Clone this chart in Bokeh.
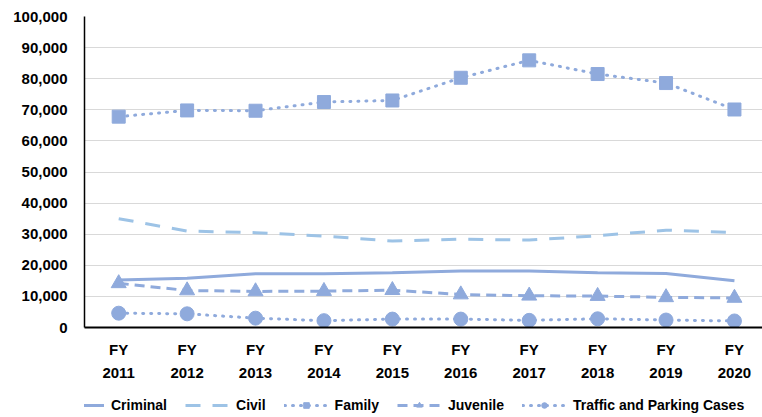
from bokeh.plotting import figure
from bokeh.layouts import column
from bokeh.models import (FixedTicker, NumeralTickFormatter, Legend, LegendItem, Range1d)
from bokeh.embed import file_html
from bokeh.resources import INLINE

years = [2011, 2012, 2013, 2014, 2015, 2016, 2017, 2018, 2019, 2020]
year_labels = ["FY\n2011", "FY\n2012", "FY\n2013", "FY\n2014", "FY\n2015",
               "FY\n2016", "FY\n2017", "FY\n2018", "FY\n2019", "FY\n2020"]

criminal = [15300, 15800, 17300, 17300, 17600, 18200, 18200, 17600, 17400, 15000]
civil = [35000, 31000, 30500, 29400, 27800, 28400, 28100, 29500, 31300, 30500]
family = [67800, 69800, 69700, 72500, 73000, 80300, 85900, 81500, 78600, 70100]
juvenile = [14200, 11900, 11600, 11700, 12000, 10600, 10200, 10100, 9700, 9500]
traffic = [4600, 4400, 3000, 2200, 2700, 2700, 2300, 2800, 2400, 2100]

series_names = ["Criminal", "Civil", "Family", "Juvenile", "Traffic and Parking Cases"]

y_ticks = [0, 10000, 20000, 30000, 40000, 50000, 60000, 70000, 80000, 90000, 100000]

C1 = "#8FAADC"
C2 = "#9DC3E6"
FONT = "Liberation Sans"

styles = [
    dict(line=dict(line_color=C1, line_width=3), marker=None),
    dict(line=dict(line_color=C2, line_width=3, line_dash="15 12"), marker=None),
    dict(line=dict(line_color=C1, line_width=3, line_dash="1 7", line_cap="round"),
         marker=dict(marker="square", size=13, fill_color=C1, line_color=C1)),
    dict(line=dict(line_color=C1, line_width=3, line_dash="10 6"),
         marker=dict(marker="triangle", size=15, fill_color=C1, line_color=C1)),
    dict(line=dict(line_color=C1, line_width=3, line_dash="1 7", line_cap="round"),
         marker=dict(marker="circle", size=14, fill_color=C1, line_color=C1)),
]
series = [criminal, civil, family, juvenile, traffic]

p = figure(width=762, height=392, output_backend="svg", toolbar_location=None,
           x_range=Range1d(2010.5, 2020.41), y_range=Range1d(0, 100000),
           min_border_left=84, min_border_top=16, min_border_right=0, min_border_bottom=65)
p.outline_line_color = None
p.background_fill_color = "white"
p.border_fill_color = "white"

p.yaxis.ticker = FixedTicker(ticks=y_ticks)
p.yaxis.formatter = NumeralTickFormatter(format="0,0")
p.yaxis.major_tick_line_color = None
p.yaxis.minor_tick_line_color = None
p.yaxis.axis_line_color = "black"
p.yaxis.axis_line_width = 1.5
p.yaxis.major_label_standoff = 11
p.yaxis.major_label_text_font = FONT
p.yaxis.major_label_text_font_style = "bold"
p.yaxis.major_label_text_font_size = "15px"
p.yaxis.major_label_text_color = "black"

p.xaxis.ticker = FixedTicker(ticks=years)
p.xaxis.major_label_overrides = {y: l for y, l in zip(years, year_labels)}
p.xaxis.major_tick_line_color = None
p.xaxis.minor_tick_line_color = None
p.xaxis.axis_line_color = "black"
p.xaxis.axis_line_width = 2
p.xaxis.major_label_standoff = 7
p.xaxis.major_label_text_font = FONT
p.xaxis.major_label_text_font_style = "bold"
p.xaxis.major_label_text_font_size = "15px"
p.xaxis.major_label_text_color = "black"
p.xaxis.major_label_text_line_height = 1.4

p.xgrid.grid_line_color = None
p.ygrid.ticker = FixedTicker(ticks=y_ticks)
p.ygrid.grid_line_color = "#D9D9D9"
p.ygrid.grid_line_width = 1

for vals, st in zip(series, styles):
    p.line(years, vals, **st["line"])
    if st["marker"]:
        p.scatter(years, vals, **st["marker"])

# legend strip below the chart (its own glyphs lie outside its visible range)
lp = figure(width=762, height=25, output_backend="svg", toolbar_location=None,
            x_range=Range1d(0, 1), y_range=Range1d(0, 1),
            x_axis_location=None, y_axis_location=None,
            min_border=0, min_border_left=0, min_border_right=0,
            min_border_top=0, min_border_bottom=0)
lp.grid.visible = False
lp.outline_line_color = None
lp.background_fill_color = "white"
lp.border_fill_color = "white"

items = []
for name, vals, st in zip(series_names, series, styles):
    rs = [lp.line(years, vals, **st["line"])]
    if st["marker"]:
        rs.append(lp.scatter(years, vals, **st["marker"]))
    items.append(LegendItem(label=name, renderers=rs))

legend = Legend(items=items, orientation="horizontal", location=(-24, 4),
                glyph_width=44, glyph_height=14, label_standoff=7, spacing=18,
                label_text_font=FONT, label_text_font_style="bold",
                label_text_font_size="14px", label_text_color="black",
                border_line_color=None, background_fill_alpha=0,
                padding=4, margin=0)
lp.add_layout(legend, "center")

layout = column(p, lp, spacing=0)
open("out.html", "w").write(file_html(layout, INLINE))
